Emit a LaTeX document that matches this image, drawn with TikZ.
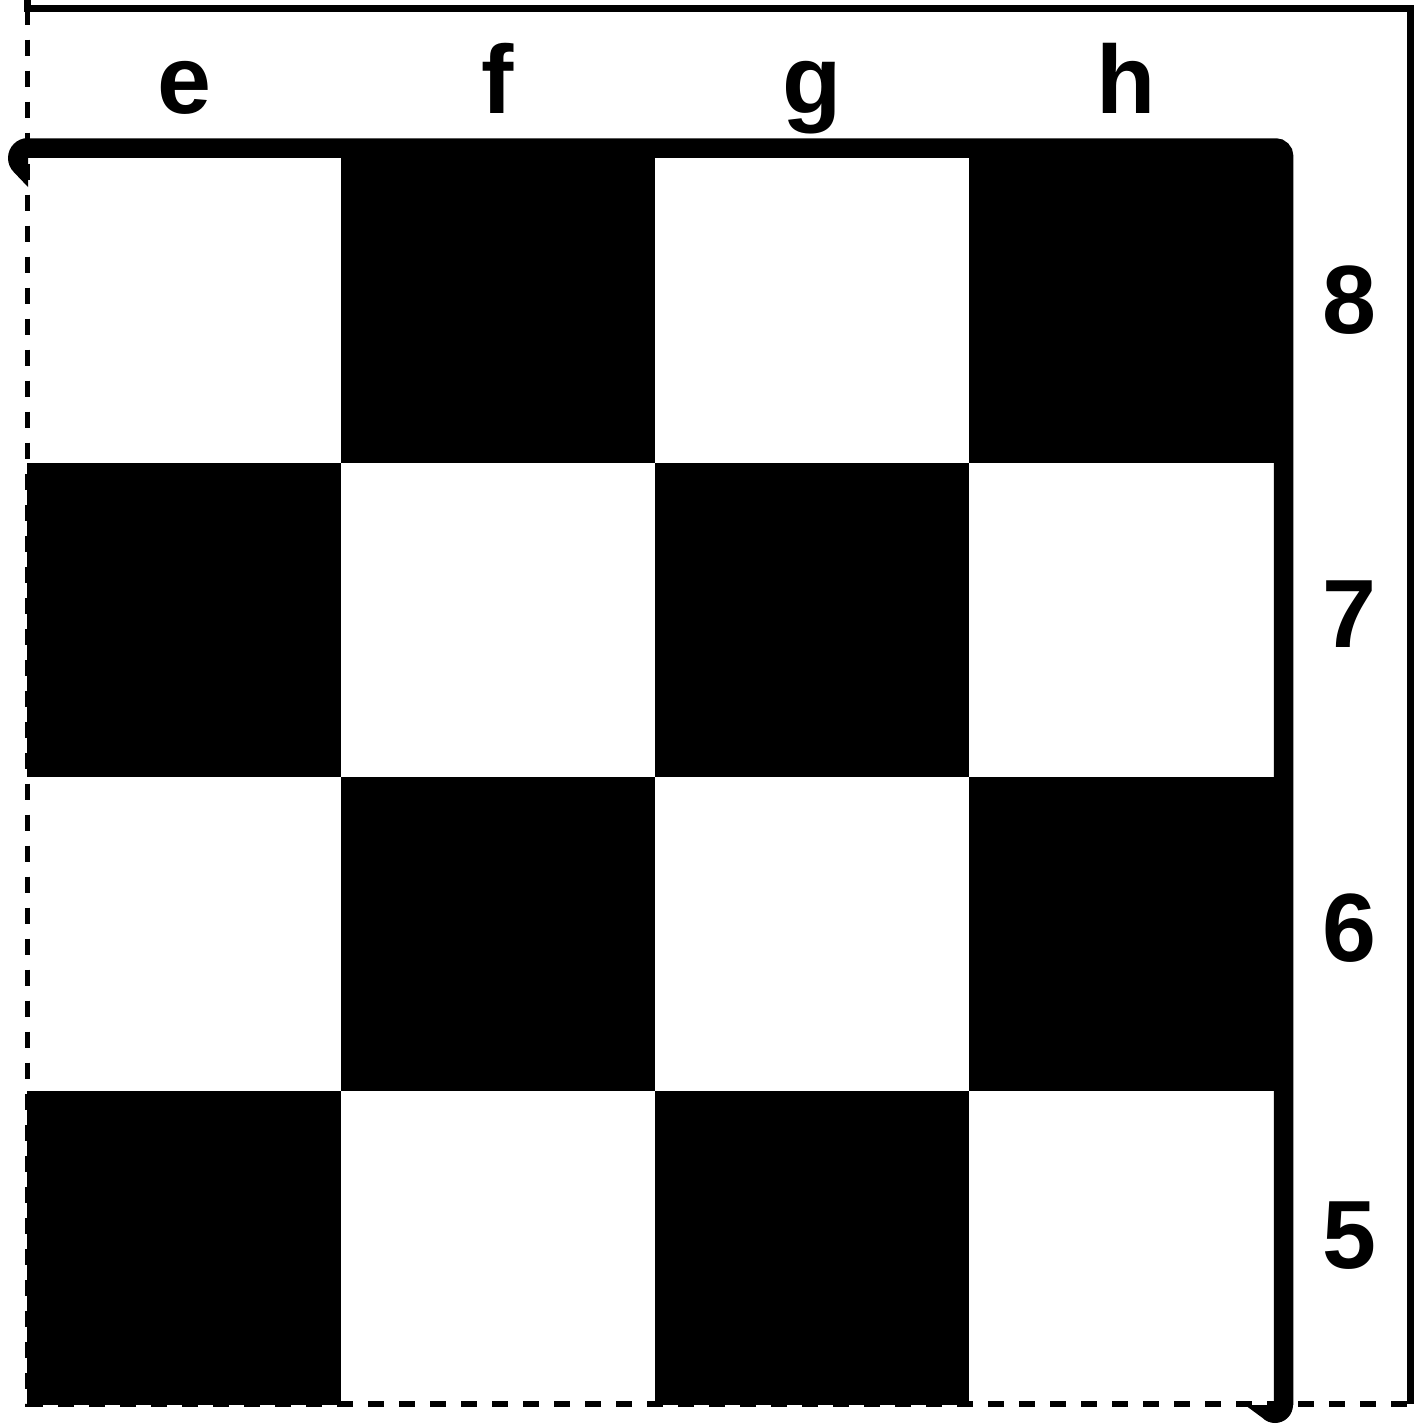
\documentclass[tikz,border=0pt]{standalone}
\usepackage{fontspec}
\setmainfont{Liberation Sans}
\begin{document}
\begin{tikzpicture}[x=1pt,y=-1pt,
  lbl/.style={font=\fontsize{97}{97}\selectfont\bfseries, inner sep=0pt, anchor=base},
  darksq/.style={fill=black},
  frame solid/.style={line width=7pt},
  frame dashed/.style={line width=5.5pt, dash pattern=on 16pt off 15pt},
  edge line/.style={line width=19.5pt, rounded corners=8pt}]
\useasboundingbox (0,0) rectangle (1421,1424);
% dark squares
\foreach \c/\r in {1/0,3/0,0/1,2/1,1/2,3/2,0/3,2/3}{
  \fill[darksq] ({27+314*\c},{149+314*\r}) rectangle ++(314,314);
}
% outer frame
\coordinate (tl) at (27.5,8.5);
\coordinate (tr) at (1410,8.5);
\coordinate (br) at (1410,1404);
\coordinate (bl) at (27.5,1404);
\draw[frame solid] ([yshift=12pt]tl) -- (tl) -- (tr) -- (br);
\draw[frame dashed] (tl) -- (bl) -- (br);
% thick board edge
\coordinate (e0) at (28,148);
\coordinate (e1) at (1283.5,148);
\coordinate (e2) at (1283.5,1405);
\draw[edge line] (e0) -- (e1) -- (e2);
\fill (28,138) arc[start angle=270, end angle=135, radius=20] -- (28,187) -- cycle;
\fill (1293,1405) arc[start angle=0, end angle=135, radius=18] -- (1245,1405) -- cycle;
% file labels
\node[lbl] (le) at (184,113) {e};
\node[lbl] (lf) at (498,113) {f};
\node[lbl] (lg) at (812,113) {g};
\node[lbl] (lh) at (1126,113) {h};
% rank labels
\node[lbl] (r8) at (1349,333) {8};
\node[lbl] (r7) at (1349,647) {7};
\node[lbl] (r6) at (1349,961) {6};
\node[lbl] (r5) at (1349,1268) {5};
\end{tikzpicture}
\end{document}
